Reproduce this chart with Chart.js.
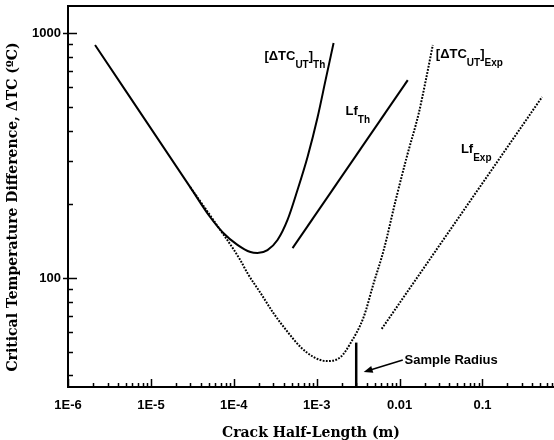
<!DOCTYPE html>
<html>
<head>
<meta charset="utf-8">
<script src="https://cdn.jsdelivr.net/npm/chart.js@4.4.0/dist/chart.umd.min.js"></script>
<style>
  html, body { margin: 0; padding: 0; background: #fff; }
  #wrap { width: 554px; height: 440px; }
</style>
</head>
<body>
<div id="wrap"><canvas id="chart"></canvas></div>
<script>
// Values (x = crack half-length in m, y = deg C)
const thX = [2.12e-6, 2.98e-5, 5.21e-5, 7.48e-5, 1.107e-4, 1.59e-4, 1.93e-4, 2.55e-4, 3.37e-4, 4.45e-4, 5.87e-4, 7.76e-4, 1.026e-3, 1.28e-3, 1.60e-3];
const thY = [893, 235, 177, 152.7, 136.5, 127.6, 126.5, 130, 142.9, 172.6, 228.6, 311.8, 453, 642, 910];

const expX = [2.98e-5, 5.66e-5, 1.20e-4, 1.46e-4, 2.10e-4, 3.01e-4, 4.45e-4, 6.38e-4, 9.18e-4, 1.32e-3, 1.945e-3, 2.57e-3, 3.69e-3, 4.88e-3, 6.44e-3, 8.99e-3, 1.222e-2, 1.706e-2, 2.074e-2, 2.52e-2];
const expY = [235, 172.6, 118.3, 104.7, 86.9, 71.9, 60.3, 52.3, 47.6, 45.8, 47.6, 54.3, 69.3, 95.5, 130, 208, 312, 471, 642, 894];

const lfThX = [5.12e-4, 1.256e-2];
const lfThY = [132.4, 642];

const lfExpX = [6.09e-3, 0.524];
const lfExpY = [62.0, 548];

const sampleRadiusX = [3.0e-3, 3.0e-3];
const sampleRadiusY = [35.9, 54.5];

// axis ranges and tick labels
const xMin = 1e-6, xMax = 0.73;
const yMin = 35.9, yMax = 1289;
const xDecades = [1e-6, 1e-5, 1e-4, 1e-3, 0.01, 0.1];
const xDecadeLabels = ['1E-6', '1E-5', '1E-4', '1E-3', '0.01', '0.1'];
const yDecades = [10, 100, 1000];
const yDecadeLabels = ['10', '100', '1000'];

const toPoints = (xs, ys) => xs.map((v, i) => ({x: v, y: ys[i]}));

function isDecade(v) {
  const l = Math.log10(v);
  return Math.abs(l - Math.round(l)) < 1e-6;
}
function decadeLabel(v, decades, labels) {
  if (!isDecade(v)) return '';
  const i = decades.findIndex(d => Math.abs(Math.log10(d) - Math.log10(v)) < 1e-6);
  return i >= 0 ? labels[i] : '';
}
// all 1..9 x 10^n ticks inside the range
function logTicks(min, max) {
  const out = [];
  for (let e = Math.floor(Math.log10(min)); e <= Math.ceil(Math.log10(max)); e++) {
    for (let m = 1; m <= 9; m++) {
      const v = m * Math.pow(10, e);
      if (v >= min * 0.9999 && v <= max * 1.0001) out.push({value: v});
    }
  }
  return out;
}

const tickFont = {family: '"Liberation Sans", Arial, sans-serif', size: 13, weight: 'bold'};
const titleFont = '"DejaVu Serif", serif';

// draws inward ticks, top frame, curve labels, arrow and y title
const decorations = {
  id: 'decorations',
  afterDraw(chart) {
    const {ctx, chartArea: a, scales: {x, y}} = chart;
    ctx.save();
    ctx.strokeStyle = '#000';
    ctx.fillStyle = '#000';

    // top frame line
    ctx.lineWidth = 2;
    ctx.beginPath();
    ctx.moveTo(a.left - 1, a.top);
    ctx.lineTo(a.right, a.top);
    ctx.stroke();

    // inward ticks
    ctx.lineWidth = 1.5;
    x.ticks.forEach(t => {
      const px = Math.round(x.getPixelForValue(t.value)) + 0.5;
      const len = isDecade(t.value) ? 8 : 4;
      ctx.beginPath();
      ctx.moveTo(px, a.bottom);
      ctx.lineTo(px, a.bottom - len);
      ctx.stroke();
    });
    y.ticks.forEach(t => {
      const py = Math.round(y.getPixelForValue(t.value)) + 0.5;
      const major = isDecade(t.value);
      ctx.beginPath();
      ctx.moveTo(a.left - (major ? 5 : 0), py);
      ctx.lineTo(a.left + (major ? 9 : 5), py);
      ctx.stroke();
    });

    // curve labels with subscripts
    const mainF = 'bold 13px "Liberation Sans", Arial, sans-serif';
    const subF = 'bold 10px "Liberation Sans", Arial, sans-serif';
    function label(parts, vx, vy) {
      let px = x.getPixelForValue(vx);
      const py = y.getPixelForValue(vy);
      ctx.textBaseline = 'alphabetic';
      ctx.textAlign = 'left';
      parts.forEach(([txt, sub]) => {
        ctx.font = sub ? subF : mainF;
        ctx.fillText(txt, px, sub ? py + 8 : py);
        px += ctx.measureText(txt).width;
      });
    }
    label([['[\u0394TC', 0], ['UT', 1], [']', 0], ['Th', 1]], 2.34e-4, 776);
    label([['Lf', 0], ['Th', 1]], 2.23e-3, 463);
    label([['[\u0394TC', 0], ['UT', 1], [']', 0], ['Exp', 1]], 0.0274, 791);
    label([['Lf', 0], ['Exp', 1]], 0.055, 324);

    // sample radius arrow
    const tipX = x.getPixelForValue(3.69e-3), tipY = y.getPixelForValue(41.3);
    const tailX = x.getPixelForValue(0.01094), tailY = y.getPixelForValue(46.3);
    const ang = Math.atan2(tipY - tailY, tipX - tailX);
    ctx.lineWidth = 1.5;
    ctx.beginPath();
    ctx.moveTo(tailX, tailY);
    ctx.lineTo(tipX - 6 * Math.cos(ang), tipY - 6 * Math.sin(ang));
    ctx.stroke();
    ctx.beginPath();
    ctx.moveTo(tipX, tipY);
    ctx.lineTo(tipX - 9 * Math.cos(ang) + 3.5 * Math.sin(ang), tipY - 9 * Math.sin(ang) - 3.5 * Math.cos(ang));
    ctx.lineTo(tipX - 9 * Math.cos(ang) - 3.5 * Math.sin(ang), tipY - 9 * Math.sin(ang) + 3.5 * Math.cos(ang));
    ctx.closePath();
    ctx.fill();
    ctx.font = mainF;
    ctx.textBaseline = 'middle';
    ctx.fillText('Sample Radius', x.getPixelForValue(0.0115), y.getPixelForValue(46));

    // y axis title
    ctx.translate(13, 207);
    ctx.rotate(-Math.PI / 2);
    ctx.font = 'bold 14px ' + titleFont;
    ctx.textAlign = 'center';
    ctx.textBaseline = 'middle';
    ctx.fillText('Critical Temperature Difference, \u0394TC (\u00BAC)', 0, 0);
    ctx.restore();
  }
};

const lineBase = {pointRadius: 0, borderColor: '#000', fill: false, cubicInterpolationMode: 'monotone'};

new Chart(document.getElementById('chart'), {
  type: 'line',
  data: {
    datasets: [
      {...lineBase, data: toPoints(thX, thY), borderWidth: 2},
      {...lineBase, data: toPoints(expX, expY), borderWidth: 2, borderDash: [1.8, 1.4]},
      {...lineBase, data: toPoints(lfThX, lfThY), borderWidth: 2},
      {...lineBase, data: toPoints(lfExpX, lfExpY), borderWidth: 2, borderDash: [1.8, 1.4]},
      {...lineBase, data: toPoints(sampleRadiusX, sampleRadiusY), borderWidth: 2.5}
    ]
  },
  options: {
    responsive: true,
    maintainAspectRatio: false,
    animation: false,
    events: [],
    layout: {padding: {top: 6, right: 0, bottom: 0, left: 0}},
    plugins: {legend: {display: false}, tooltip: {enabled: false}},
    scales: {
      x: {
        type: 'logarithmic',
        min: xMin,
        max: xMax,
        afterBuildTicks: s => { s.ticks = logTicks(xMin, xMax); },
        afterFit: s => { s.height = 53; s.paddingLeft = 0; s.paddingRight = 0; },
        grid: {display: false, drawTicks: false},
        border: {display: true, color: '#000', width: 2},
        ticks: {
          autoSkip: false,
          maxRotation: 0,
          padding: 11,
          color: '#000',
          font: tickFont,
          callback: v => decadeLabel(v, xDecades, xDecadeLabels)
        },
        title: {
          display: true,
          text: 'Crack Half-Length (m)',
          color: '#000',
          padding: {top: 0, bottom: 0},
          font: {family: titleFont, size: 14, weight: 'bold', lineHeight: 1}
        }
      },
      y: {
        type: 'logarithmic',
        min: yMin,
        max: yMax,
        afterBuildTicks: s => { s.ticks = logTicks(yMin, yMax); },
        afterFit: s => { s.width = 68; s.paddingTop = 0; s.paddingBottom = 0; },
        grid: {display: false, drawTicks: false},
        border: {display: true, color: '#000', width: 2},
        ticks: {
          autoSkip: false,
          padding: 7,
          color: '#000',
          font: tickFont,
          callback: v => decadeLabel(v, yDecades, yDecadeLabels)
        }
      }
    }
  },
  plugins: [decorations]
});
</script>
</body>
</html>
